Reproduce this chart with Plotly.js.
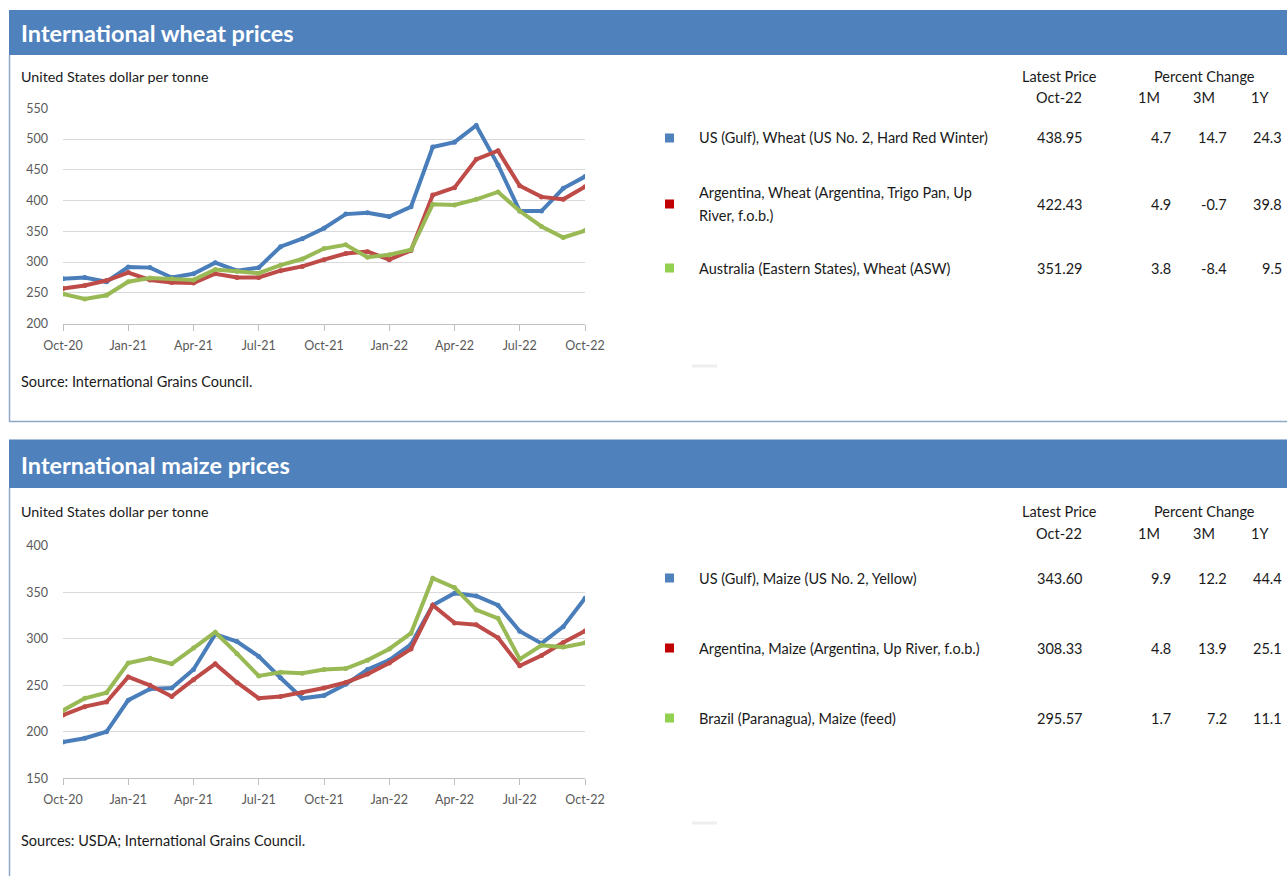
<!DOCTYPE html>
<html>
<head>
<meta charset="utf-8">
<script src="https://cdn.plot.ly/plotly-3.0.1.min.js"></script>
<style>html,body{margin:0;padding:0;background:#fff;}#chart{width:1287px;height:876px;}</style>
</head>
<body>
<div id="chart"></div>
<script>
// ---- data ----
const months = ["Oct-20","Nov-20","Dec-20","Jan-21","Feb-21","Mar-21","Apr-21","May-21","Jun-21","Jul-21","Aug-21","Sep-21","Oct-21","Nov-21","Dec-21","Jan-22","Feb-22","Mar-22","Apr-22","May-22","Jun-22","Jul-22","Aug-22","Sep-22","Oct-22"];
const quarterTicks = ["Oct-20","Jan-21","Apr-21","Jul-21","Oct-21","Jan-22","Apr-22","Jul-22","Oct-22"];

const wheatUS  = [273, 275, 268, 292, 291, 275, 281, 299, 286, 291, 325, 338, 355, 378, 380, 374, 390, 487, 495, 522, 458, 383, 383, 420, 438.95];
const wheatArg = [257, 262, 270, 283, 271, 267, 266, 281, 275, 275, 286, 293, 304, 314, 317, 304, 319, 409, 421, 467, 481, 424, 406, 402, 422.43];
const wheatAus = [248, 240, 246, 268, 274, 273, 271, 288, 285, 282, 295, 305, 322, 328, 308, 312, 320, 394, 393, 402, 414, 383, 358, 340, 351.29];

const maizeUS  = [189, 193, 200, 234, 246, 247, 267, 305, 297, 281, 258, 236, 239, 251, 267, 277, 294, 336, 349, 346, 336, 308, 295, 313, 343.60];
const maizeArg = [218, 227, 232, 259, 250, 238, 256, 273, 253, 236, 238, 242, 247, 253, 262, 274, 289, 336, 317, 315, 301, 271, 282, 296, 308.33];
const maizeBra = [223, 236, 242, 274, 279, 273, 290, 307, 284, 260, 264, 263, 267, 268, 277, 289, 306, 365, 355, 331, 322, 278, 293, 291, 295.57];

const wheatNames  = ["US (Gulf), Wheat (US No. 2, Hard Red Winter)", "Argentina, Wheat (Argentina, Trigo Pan, Up|River, f.o.b.)", "Australia (Eastern States), Wheat (ASW)"];
const wheatLatest = ["438.95", "422.43", "351.29"];
const wheat1M = ["4.7", "4.9", "3.8"];
const wheat3M = ["14.7", "-0.7", "-8.4"];
const wheat1Y = ["24.3", "39.8", "9.5"];

const maizeNames  = ["US (Gulf), Maize (US No. 2, Yellow)", "Argentina, Maize (Argentina, Up River, f.o.b.)", "Brazil (Paranagua), Maize (feed)"];
const maizeLatest = ["343.60", "308.33", "295.57"];
const maize1M = ["9.9", "4.8", "1.7"];
const maize3M = ["12.2", "13.9", "7.2"];
const maize1Y = ["44.4", "25.1", "11.1"];

// ---- helpers ----
const W = 1287, H = 876;
const px = x => x / W;
const py = y => 1 - y / H;
const FONT = 'Lato, "Open Sans", sans-serif';
const lineCols = ["#4A7EBB", "#BE4B48", "#98B954"];
const squareCols = ["#4F81BD", "#C00000", "#92D050"];

function series(y, col, xa, ya) {
  return {x: months, y: y, type: 'scatter', mode: 'lines+markers', xaxis: xa, yaxis: ya,
    line: {color: col, width: 4}, marker: {color: col, size: 5}, hoverinfo: 'x+y'};
}
const data = [
  series(wheatUS, lineCols[0], 'x', 'y'),
  series(wheatArg, lineCols[1], 'x', 'y'),
  series(wheatAus, lineCols[2], 'x', 'y'),
  series(maizeUS, lineCols[0], 'x2', 'y2'),
  series(maizeArg, lineCols[1], 'x2', 'y2'),
  series(maizeBra, lineCols[2], 'x2', 'y2')
];

function xax(anchor) {
  return {domain: [px(63), px(585)], anchor: anchor, type: 'category', range: [0, 24],
    tickmode: 'array', tickvals: quarterTicks, ticktext: quarterTicks,
    showgrid: false, zeroline: false, showline: true, linecolor: '#BFBFBF', linewidth: 1,
    ticks: 'outside', ticklen: 6, tickcolor: '#BFBFBF', ticklabelstandoff: 4,
    tickfont: {family: FONT, size: 12.5, color: '#595959'}, fixedrange: true};
}
function yax(top, bottom, r, anchor) {
  return {domain: [py(bottom), py(top)], anchor: anchor, range: r, dtick: 50, tick0: 0,
    showgrid: true, gridcolor: '#D9D9D9', gridwidth: 1, zeroline: false, showline: false,
    ticks: '', ticklabelstandoff: 14,
    tickfont: {family: FONT, size: 12.5, color: '#595959'}, fixedrange: true};
}

const ann = [];
const shapes = [];
const TS = 14.5;
function txt(x, y, t, opts) {
  opts = opts || {};
  ann.push({xref: 'paper', yref: 'paper', x: px(x), y: py(y), text: t, showarrow: false,
    xanchor: opts.xa || 'left', yanchor: 'middle',
    font: {family: FONT, size: opts.size || TS, color: opts.color || '#1a1a1a', weight: opts.weight || 400}});
}
function rect(x0, y0, x1, y1, col) {
  shapes.push({type: 'rect', xref: 'paper', yref: 'paper', x0: px(x0), x1: px(x1), y0: py(y1), y1: py(y0),
    fillcolor: col, line: {width: 0}, layer: 'below'});
}
function line(x0, y0, x1, y1, col, w) {
  shapes.push({type: 'line', xref: 'paper', yref: 'paper', x0: px(x0), x1: px(x1), y0: py(y0), y1: py(y1),
    line: {color: col, width: w}});
}

function panel(top, barBottom, title, source, unitsY, sourceY, names, latest, m1, m3, y1, hdrY, rowsY, dashY, bottomBorder) {
  rect(9, top, W, barBottom, '#4F81BD');
  txt(19, (top + barBottom) / 2 + 1, title, {size: 23.5, color: '#ffffff', weight: 700});
  line(9.5, barBottom, 9.5, bottomBorder ? bottomBorder : H, '#8EA9C8', 1.5);
  if (bottomBorder) line(9, bottomBorder, W, bottomBorder, '#8EA9C8', 1.5);
  txt(19, unitsY, 'United States dollar per tonne', {size: 14.3});
  txt(19, sourceY, source, {size: 14.5});
  // table header
  txt(1059, hdrY[0], 'Latest Price', {xa: 'center'});
  txt(1059, hdrY[1], 'Oct-22', {xa: 'center'});
  txt(1204, hdrY[0], 'Percent Change', {xa: 'center'});
  txt(1149, hdrY[1], '1M', {xa: 'center'});
  txt(1204, hdrY[1], '3M', {xa: 'center'});
  txt(1260, hdrY[1], '1Y', {xa: 'center'});
  for (let i = 0; i < names.length; i++) {
    const yc = rowsY[i];
    const parts = names[i].split('|');
    if (parts.length === 1) {
      txt(697, yc, parts[0]);
    } else {
      txt(697, yc - 12, parts[0]);
      txt(697, yc + 11, parts[1]);
    }
    rect(665, yc - 4.5, 674, yc + 4.5, squareCols[i]);
    txt(1059, yc, latest[i], {xa: 'center'});
    txt(1173, yc, m1[i], {xa: 'right'});
    txt(1229, yc, m3[i], {xa: 'right'});
    txt(1284, yc, y1[i], {xa: 'right'});
  }
  rect(692, dashY - 1.5, 717, dashY + 1.5, '#EEEEEE');
}

panel(10, 55, 'International wheat prices', 'Source: International Grains Council.', 76, 381.5,
  wheatNames, wheatLatest, wheat1M, wheat3M, wheat1Y, [76, 97], [138, 204, 268], 366, 421.5);
panel(439.5, 488, 'International maize prices', 'Sources: USDA; International Grains Council.', 511, 840,
  maizeNames, maizeLatest, maize1M, maize3M, maize1Y, [511, 533], [578, 648, 718], 823, null);

const layout = {
  width: W, height: H, margin: {l: 0, r: 0, t: 0, b: 0}, autosize: false,
  paper_bgcolor: '#ffffff', plot_bgcolor: 'rgba(0,0,0,0)', showlegend: false,
  xaxis: xax('y'),
  yaxis: yax(108.3, 323.6, [200, 550], 'x'),
  xaxis2: xax('y2'),
  yaxis2: yax(545.7, 778.3, [150, 400], 'x2'),
  annotations: ann, shapes: shapes
};

Plotly.newPlot('chart', data, layout, {displayModeBar: false, staticPlot: true});
</script>
</body>
</html>
